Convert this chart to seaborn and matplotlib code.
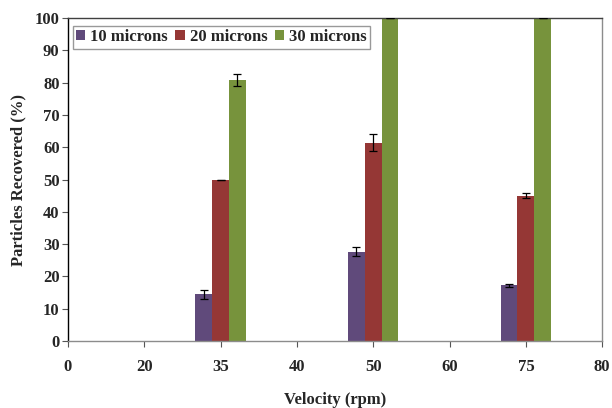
import matplotlib
matplotlib.use("Agg")
import matplotlib.pyplot as plt
import seaborn as sns
import pandas as pd
import numpy as np

# ---- data ----
tick_labels = ["0", "20", "35", "40", "50", "60", "75", "80"]
velocities = ["35", "50", "75"]
series = ["10 microns", "20 microns", "30 microns"]
vals_10 = [14.5, 27.6, 17.3]
vals_20 = [50.0, 61.4, 45.0]
vals_30 = [80.8, 100.0, 100.0]
err_10 = [1.4, 1.4, 0.5]
err_20 = [0.0, 2.6, 0.8]
err_30 = [2.0, 0.1, 0.1]
colors = ["#604A7B", "#953735", "#77933C"]

sns.set_theme(style="white")
plt.rcParams["font.family"] = ["Liberation Serif", "DejaVu Serif"]
plt.rcParams["font.weight"] = "bold"

rows = []
for s, vals in zip(series, [vals_10, vals_20, vals_30]):
    for v, y in zip(velocities, vals):
        rows.append({"Velocity": v, "Series": s, "Value": y})
df = pd.DataFrame(rows)

fig = plt.figure(figsize=(6.12, 4.08), dpi=100)
ax = fig.add_axes([0.111, 0.164, 0.873, 0.792])

width = 0.66
sns.barplot(data=df, x="Velocity", y="Value", hue="Series", order=tick_labels,
            hue_order=series, palette=colors, width=width, errorbar=None,
            saturation=1, linewidth=0, ax=ax)

bw = width / len(series)
for i, (vals, errs) in enumerate(zip([vals_10, vals_20, vals_30], [err_10, err_20, err_30])):
    xs = [tick_labels.index(v) + (i - 1) * bw for v in velocities]
    ax.errorbar(xs, vals, yerr=errs, fmt="none", ecolor="black", elinewidth=0.9,
                capsize=3, capthick=0.9, zorder=5)

ax.set_xlim(0, len(tick_labels) - 1)
ax.set_ylim(0, 100)
ax.set_yticks(np.arange(0, 101, 10))
ax.set_xticks(range(len(tick_labels)))
ax.set_xticklabels(tick_labels)

ax.tick_params(axis="both", which="major", labelsize=12, direction="out",
               length=4, width=0.8, color="#555555", bottom=True, left=True, pad=2)
ax.tick_params(axis="x", pad=9)
for lab in ax.get_xticklabels() + ax.get_yticklabels():
    lab.set_fontweight("bold")

ax.set_xlabel("Velocity (rpm)", fontsize=12, fontweight="bold", labelpad=12)
ax.set_ylabel("Particles Recovered (%)", fontsize=12, fontweight="bold", labelpad=6)

for side in ["top", "right", "left", "bottom"]:
    ax.spines[side].set_visible(True)
    ax.spines[side].set_linewidth(1.0)
ax.spines["left"].set_color("black")
ax.spines["bottom"].set_color("#8c8c8c")
ax.spines["top"].set_color("#404040")
ax.spines["right"].set_color("#8c8c8c")
ax.grid(False)

leg = ax.legend(loc="upper left", bbox_to_anchor=(0.009, 0.975), ncol=3,
                frameon=True, fancybox=False, fontsize=12, handlelength=0.55,
                handleheight=0.55, handletextpad=0.3, columnspacing=0.45,
                borderpad=0.2, borderaxespad=0)
leg.get_frame().set_edgecolor("#808080")
leg.get_frame().set_linewidth(1.0)
for t in leg.get_texts():
    t.set_fontweight("bold")

fig.savefig("out.png", dpi=100)
